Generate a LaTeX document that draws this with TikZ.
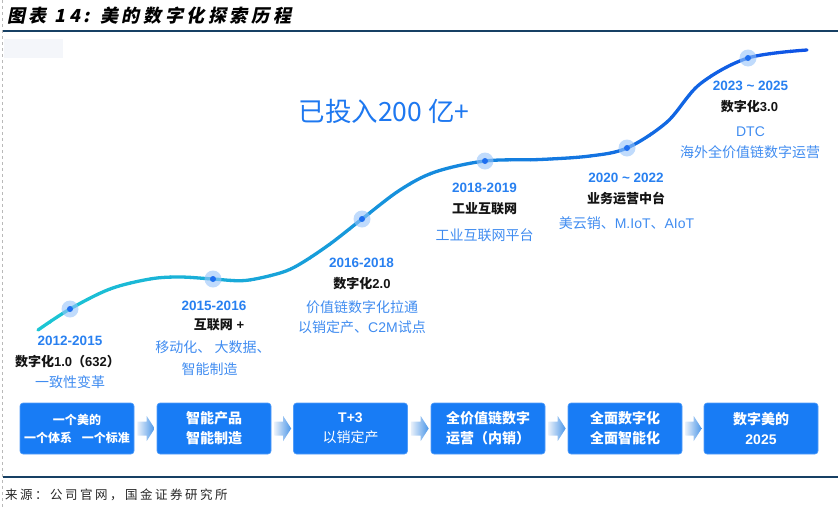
\documentclass[tikz,border=0pt]{standalone}
\usepackage{fontspec}
\setmainfont{Liberation Sans}
\newfontfamily\cjk{Noto Sans CJK SC}
\newfontfamily\titlefont[FakeSlant=0.2,LetterSpace=20]{Noto Sans CJK SC}
\newfontfamily\srcfont[LetterSpace=20]{Noto Sans CJK SC}
\usetikzlibrary{calc}
\definecolor{navy}{RGB}{23,64,100}
\definecolor{yearblue}{RGB}{40,128,240}
\definecolor{descblue}{RGB}{64,140,240}
\definecolor{bigblue}{RGB}{30,120,240}
\definecolor{boxblue}{RGB}{24,124,245}
\definecolor{curveL}{RGB}{28,198,212}
\definecolor{curveR}{RGB}{15,80,230}
\definecolor{halo}{RGB}{150,195,250}
\definecolor{dotc}{RGB}{30,110,240}
\definecolor{arrL}{RGB}{232,240,250}
\definecolor{arrR}{RGB}{75,150,232}
\definecolor{faint}{RGB}{244,246,250}
\newcommand\chev[2]{%
  \shade[left color=arrL, right color=arrR]
    ($(#1.east)+(3,-7)$) -- ($(#2.west)+(-10,-7)$) -- ($(#2.west)+(-10,-12.5)$)
    -- ($(#2.west)+(-2,0)$) -- ($(#2.west)+(-10,12.5)$) -- ($(#2.west)+(-10,7)$)
    -- ($(#1.east)+(3,7)$) -- cycle;}
\def\curvepath{plot[smooth,tension=0.55] coordinates {(38,330) (70,309) (110,289) (150,279) (180,277) (213,279) (245,280.5) (280,273) (300,264) (330,244) (362,219) (400,190) (435,172) (485,161) (540,159.5) (590,156) (627,148) (667,122) (700,84) (748,58) (807,50)}}
\begin{document}
\begin{tikzpicture}[x=1pt,y=-1pt,
  year/.style={font=\bfseries\fontsize{13.5}{16}\selectfont, text=yearblue, inner sep=0},
  head/.style={font=\bfseries\fontsize{13}{16}\selectfont, text=black!92, inner sep=0},
  desc/.style={font=\fontsize{14}{17}\selectfont, text=descblue, inner sep=0},
  dothalo/.style={circle, fill=halo, fill opacity=0.6, minimum size=17pt, inner sep=0},
  dotcore/.style={circle, fill=dotc, minimum size=6pt, inner sep=0},
  boxstyle/.style={rounded corners=3pt, fill=boxblue, draw=boxblue!75!white, line width=0.6pt,
    minimum width=114pt, minimum height=51pt, text=white, align=center, inner sep=0,
    font=\bfseries\fontsize{14}{20}\selectfont},
  rule/.style={navy, line width=1.5pt}]
\useasboundingbox (0,0) rectangle (838,509);
% frame elements
\draw[gray!55, dashed, line width=0.6pt] (2,0) -- (2,509);
\coordinate (tl) at (3,31);
\coordinate (tr) at (838,31);
\draw[rule] (tl) -- (tr);
\coordinate (bl) at (3,477);
\coordinate (br) at (838,477);
\draw[rule] (bl) -- (br);
\fill[faint] (4,39) rectangle (63,58);
\node[anchor=west, inner sep=0, font=\titlefont\bfseries\fontsize{18}{20}\selectfont] (title) at (7,15.5) {图表 14: 美的数字化探索历程};
\node[anchor=west, inner sep=0, text=black!85, font=\srcfont\fontsize{12.5}{15}\selectfont] (src) at (5,495) {来源：公司官网，国金证券研究所};
% gradient curve
\foreach \i in {0,...,39}{
  \pgfmathsetmacro\xa{30+\i*20}
  \pgfmathsetmacro\xb{\xa+20.6}
  \pgfmathtruncatemacro\t{\i*100/39}
  \begin{scope}
    \clip (\xa,30) rectangle (\xb,400);
    \draw[line width=3.3pt, color=curveR!\t!curveL, line cap=round] \curvepath;
  \end{scope}
}
% dots
\foreach \n/\p in {d1/{(70,309)}, d2/{(213,279)}, d3/{(362,219)}, d4/{(485,161)}, d5/{(627,148)}, d6/{(748,58)}}{
  \node[dothalo] (\n) at \p {};
  \node[dotcore] at (\n) {};
}
% big label
\node[inner sep=0, text=bigblue, font=\cjk\fontsize{26.5}{30}\selectfont] (invest) at (384,111.5) {已投入200 亿+};
% stage 1
\node[year] (y1) at (70,341) {2012-2015};
\node[head] (h1) at (67.5,361.5) {{\cjk 数字化}1.0{\cjk （}632{\cjk ）}};
\node[desc] (s1) at (70,382) {\cjk 一致性变革};
% stage 2
\node[year] (y2) at (214,306) {2015-2016};
\node[head] (h2) at (219,325) {{\cjk 互联网} +};
\node[desc] (s2a) at (213,347.5) {\cjk 移动化、 大数据、};
\node[desc] (s2b) at (209.5,369) {\cjk 智能制造};
% stage 3
\node[year] (y3) at (361.5,262.5) {2016-2018};
\node[head] (h3) at (362,283.5) {{\cjk 数字化}2.0};
\node[desc] (s3a) at (362,307.5) {\cjk 价值链数字化拉通};
\node[desc] (s3b) at (362,327) {{\cjk 以销定产、}C2M{\cjk 试点}};
% stage 4
\node[year] (y4) at (484.5,187.5) {2018-2019};
\node[head] (h4) at (484.5,208.5) {\cjk 工业互联网};
\node[desc] (s4) at (484.5,235) {\cjk 工业互联网平台};
% stage 5
\node[year] (y5) at (626,177.5) {2020 \char`~\ 2022};
\node[head] (h5) at (626,198.5) {\cjk 业务运营中台};
\node[desc] (s5) at (626.5,223.5) {{\cjk 美云销、}M.IoT{\cjk 、}AIoT};
% stage 6
\node[year] (y6) at (750.5,86) {2023 \char`~\ 2025};
\node[head] (h6) at (749.5,106.5) {{\cjk 数字化}3.0};
\node[desc] (s6a) at (750.5,131.5) {DTC};
\node[desc] (s6b) at (750,152) {\cjk 海外全价值链数字运营};
% bottom boxes
\node[boxstyle, font=\bfseries\fontsize{12}{18}\selectfont] (b1) at (77,428.5) {\cjk 一个美的\\\cjk 一个体系\hspace{0.8em}一个标准};
\node[boxstyle] (b2) at (214,428.5) {\cjk 智能产品\\\cjk 智能制造};
\node[boxstyle] (b3) at (350.5,428.5) {T+3\\\mdseries\cjk 以销定产};
\node[boxstyle] (b4) at (488,428.5) {\cjk 全价值链数字\\\cjk 运营（内销）};
\node[boxstyle] (b5) at (625,428.5) {\cjk 全面数字化\\\cjk 全面智能化};
\node[boxstyle] (b6) at (761,428.5) {{\cjk 数字美的}\\2025};
\chev{b1}{b2}
\chev{b2}{b3}
\chev{b3}{b4}
\chev{b4}{b5}
\chev{b5}{b6}
\end{tikzpicture}
\end{document}
